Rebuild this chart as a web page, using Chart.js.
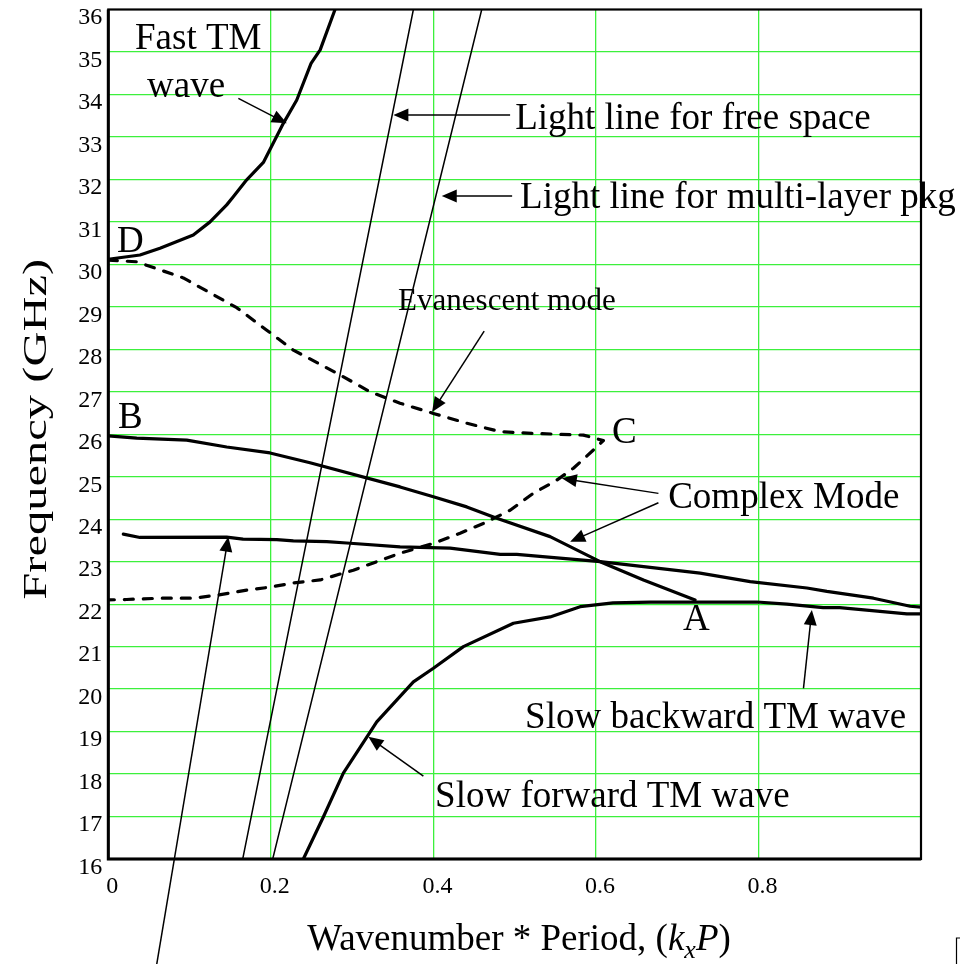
<!DOCTYPE html>
<html>
<head>
<meta charset="utf-8">
<script src="https://cdn.jsdelivr.net/npm/chart.js@4.4.1/dist/chart.umd.min.js"></script>
<style>
html,body{margin:0;padding:0;background:#fff;}
#wrap{width:960px;height:964px;position:relative;}
</style>
</head>
<body>
<div id="wrap"><canvas id="c" width="960" height="964"></canvas></div>
<script>
// ---------- tick values ----------
const xTickValues = [0, 0.2, 0.4, 0.6, 0.8];
const yTickValues = [16,17,18,19,20,21,22,23,24,25,26,27,28,29,30,31,32,33,34,35,36];

// ---------- series (k_x P , frequency GHz) ----------
const fastTM_k = [0, 0.039, 0.0636, 0.1046, 0.1252, 0.1457, 0.1538, 0.1703, 0.1908, 0.2154, 0.2319, 0.2495, 0.2607, 0.2790];
const fastTM_f = [30.12, 30.22, 30.38, 30.69, 31.0, 31.4, 31.59, 31.99, 32.4, 33.32, 33.87, 34.73, 35.05, 36.0];

const freeSpace_k = [0.1654, 0.3754];
const freeSpace_f = [16, 36];

const multiLayer_k = [0.2023, 0.4595];
const multiLayer_f = [16, 36];

const slowFwd_k = [0.24, 0.2646, 0.2892, 0.3303, 0.3754, 0.4, 0.4369, 0.4985, 0.5436, 0.5806, 0.6211, 0.6667, 0.72, 0.798, 0.835, 0.8796, 0.9, 0.9826, 1.0];
const slowFwd_f = [16, 16.99, 18.02, 19.23, 20.17, 20.49, 21.0, 21.55, 21.70, 21.94, 22.03, 22.05, 22.05, 22.05, 22.0, 21.92, 21.92, 21.77, 21.77];

const slowBwd_k = [0.0185, 0.039, 0.1457, 0.1658, 0.2073, 0.2277, 0.2688, 0.2934, 0.359, 0.4206, 0.4822, 0.5026, 0.6052, 0.7282, 0.7898, 0.8596, 0.8842, 0.9415, 0.9867, 1.0];
const slowBwd_f = [23.65, 23.57, 23.58, 23.53, 23.52, 23.49, 23.47, 23.44, 23.35, 23.32, 23.17, 23.17, 23.0, 22.73, 22.53, 22.38, 22.30, 22.14, 21.95, 21.93];

const complexBA_k = [0, 0.035, 0.0965, 0.1457, 0.199, 0.2482, 0.359, 0.4, 0.4411, 0.478, 0.5436, 0.6052, 0.6585, 0.722];
const complexBA_f = [25.96, 25.91, 25.86, 25.70, 25.56, 25.33, 24.76, 24.53, 24.29, 24.02, 23.59, 23.0, 22.57, 22.1];

const evanDC_k = [0, 0.035, 0.0923, 0.1252, 0.158, 0.195, 0.2277, 0.285, 0.322, 0.359, 0.4, 0.4411, 0.4822, 0.523, 0.5846, 0.6092,
                  0.597, 0.5723, 0.5519, 0.523, 0.4944, 0.4615, 0.4329, 0.4, 0.359, 0.3015, 0.2606, 0.2277, 0.199, 0.1703, 0.1334, 0.1046, 0.0636, 0.0226, 0];
const evanDC_f = [30.1, 30.06, 29.68, 29.33, 28.98, 28.45, 27.98, 27.4, 27.0, 26.73, 26.49, 26.26, 26.06, 26.02, 25.98, 25.85,
                  25.63, 25.2, 24.92, 24.61, 24.21, 23.9, 23.67, 23.43, 23.2, 22.8, 22.57, 22.5, 22.4, 22.33, 22.21, 22.14, 22.14, 22.11, 22.1];

// ---------- annotation texts ----------
const labelTexts = ['Fast TM', 'wave', 'Light line for free space', 'Light line for multi-layer pkg', 'D', 'B',
                    'Evanescent mode', 'C', 'Complex Mode', 'A', 'Slow backward TM wave', 'Slow forward TM wave'];
const yTitleText = 'Frequency (GHz)';

function pts(ks, fs){ return ks.map((k,i)=>({x:k, y:fs[i]})); }

const FONT = '"Liberation Serif", "Times New Roman", Times, serif';
const GRID = '#3cf03c';

// annotation placement (data coordinates) + font size
const labelPos = [
  [0.0329, 35.07], [0.0476, 33.94], [0.5006, 33.19], [0.5067, 31.33], [0.0107, 30.29], [0.0119, 26.15],
  [0.3566, 28.92], [0.6197, 25.79], [0.6889, 24.26], [0.7073, 21.39], [0.5128, 19.09], [0.4021, 17.23]
];
const labelSize = [37, 37, 37, 37, 37, 37, 31, 37, 37, 37, 37, 37];
const arrowDefs = [
  [0.16, 33.909, 0.2196, 33.32],
  [0.4944, 33.516, 0.3508, 33.516],
  [0.4969, 31.609, 0.4103, 31.609],
  [0.4625, 28.43, 0.3984, 26.523],
  [0.6769, 24.608, 0.558, 24.962],
  [0.6769, 24.387, 0.5683, 23.469],
  [0.8554, 20.017, 0.8657, 21.86],
  [0.3877, 17.952, 0.32, 18.877],
  [0.0596, 13.525, 0.1477, 23.587]
];

function drawArrow(ctx, x1, y1, x2, y2){
  const a = Math.atan2(y2 - y1, x2 - x1);
  const L = 15, W = 6.5;
  ctx.beginPath();
  ctx.moveTo(x1, y1);
  ctx.lineTo(x2 - L*0.8*Math.cos(a), y2 - L*0.8*Math.sin(a));
  ctx.stroke();
  ctx.beginPath();
  ctx.moveTo(x2, y2);
  ctx.lineTo(x2 - L*Math.cos(a) + W*Math.sin(a), y2 - L*Math.sin(a) - W*Math.cos(a));
  ctx.lineTo(x2 - L*Math.cos(a) - W*Math.sin(a), y2 - L*Math.sin(a) + W*Math.cos(a));
  ctx.closePath();
  ctx.fill();
}

const annotPlugin = {
  id: 'annot',
  afterDatasetsDraw(chart){
    const ctx = chart.ctx, xs = chart.scales.x, ys = chart.scales.y, ca = chart.chartArea;
    ctx.save();
    // frame
    ctx.strokeStyle = '#000';
    ctx.lineWidth = 2.2;
    ctx.strokeRect(ca.left, ca.top, ca.right - ca.left, ca.bottom - ca.top);
    ctx.lineWidth = 3;
    ctx.beginPath();
    ctx.moveTo(ca.left, ca.top); ctx.lineTo(ca.left, ca.bottom); ctx.lineTo(ca.right, ca.bottom);
    ctx.stroke();
    // arrows
    ctx.lineWidth = 1.5;
    ctx.fillStyle = '#000';
    arrowDefs.forEach(d => {
      drawArrow(ctx, xs.getPixelForValue(d[0]), ys.getPixelForValue(d[1]), xs.getPixelForValue(d[2]), ys.getPixelForValue(d[3]));
    });
    // labels
    ctx.textAlign = 'left';
    ctx.textBaseline = 'alphabetic';
    labelTexts.forEach((t, i) => {
      ctx.font = labelSize[i] + 'px ' + FONT;
      ctx.fillText(t, xs.getPixelForValue(labelPos[i][0]), ys.getPixelForValue(labelPos[i][1]));
    });
    // x-axis title with italic parts
    const parts = [
      {t:'Wavenumber * Period, (', f:'37px ' + FONT, dy:0},
      {t:'k', f:'italic 37px ' + FONT, dy:0},
      {t:'x', f:'italic 26px ' + FONT, dy:8},
      {t:'P', f:'italic 37px ' + FONT, dy:0},
      {t:')', f:'37px ' + FONT, dy:0}
    ];
    let total = 0;
    parts.forEach(p => { ctx.font = p.f; p.w = ctx.measureText(p.t).width; total += p.w; });
    let x = 519 - total/2;
    const base = 950;
    parts.forEach(p => { ctx.font = p.f; ctx.fillText(p.t, x, base + p.dy); x += p.w; });
    // y-axis title (stretched along its length as in the reference)
    ctx.save();
    ctx.translate(46, (ca.top + ca.bottom) / 2 - 5);
    ctx.rotate(-Math.PI / 2);
    ctx.scale(1.47, 1);
    ctx.font = '33px ' + FONT;
    ctx.textAlign = 'center';
    ctx.textBaseline = 'alphabetic';
    ctx.fillText(yTitleText, 0, 0);
    ctx.restore();
    // small mark at lower right
    ctx.lineWidth = 1.2;
    ctx.beginPath();
    ctx.moveTo(960, 938); ctx.lineTo(956.5, 938); ctx.lineTo(956.5, 964);
    ctx.stroke();
    ctx.restore();
  }
};

const thick = 3.2;
const chart = new Chart(document.getElementById('c'), {
  type: 'scatter',
  data: {
    datasets: [
      {label:'Light line for free space', data: pts(freeSpace_k, freeSpace_f), borderWidth:1.5},
      {label:'Light line for multi-layer pkg', data: pts(multiLayer_k, multiLayer_f), borderWidth:1.5},
      {label:'Fast TM wave', data: pts(fastTM_k, fastTM_f), borderWidth:thick},
      {label:'Evanescent / Complex mode (dashed)', data: pts(evanDC_k, evanDC_f), borderWidth:3.2, borderDash:[9,10]},
      {label:'Complex mode B-A', data: pts(complexBA_k, complexBA_f), borderWidth:thick},
      {label:'Slow backward TM wave', data: pts(slowBwd_k, slowBwd_f), borderWidth:thick},
      {label:'Slow forward TM wave', data: pts(slowFwd_k, slowFwd_f), borderWidth:thick}
    ].map(d => Object.assign({showLine:true, pointRadius:0, pointHoverRadius:0, borderColor:'#000', backgroundColor:'#000', tension:0, fill:false, borderJoinStyle:'round', borderCapStyle:'round'}, d))
  },
  options: {
    responsive: false,
    devicePixelRatio: 1,
    animation: false,
    events: [],
    layout: { padding: {left:0, top:9.5, right:39, bottom:0} },
    plugins: { legend:{display:false}, tooltip:{enabled:false}, title:{display:false} },
    scales: {
      x: {
        type:'linear', min:0, max:1,
        afterBuildTicks: s => { s.ticks = xTickValues.map(v => ({value:v})); },
        afterFit: s => { s.height = 105; s.paddingLeft = 0; s.paddingRight = 0; },
        grid: { drawTicks:false, color: c => (c.tick && c.tick.value === 0) ? 'rgba(0,0,0,0)' : GRID, lineWidth:1.3 },
        border: { display:false },
        ticks: { color:'#000', font:{family:FONT, size:24}, padding:13, labelOffset:4, maxRotation:0,
                 callback: v => String(v) }
      },
      y: {
        type:'linear', min:16, max:36,
        afterBuildTicks: s => { s.ticks = yTickValues.map(v => ({value:v})); },
        afterFit: s => { s.width = 108.3; s.paddingTop = 0; s.paddingBottom = 0; },
        grid: { drawTicks:false, color: c => (c.tick && (c.tick.value === 16 || c.tick.value === 36)) ? 'rgba(0,0,0,0)' : GRID, lineWidth:1.3 },
        border: { display:false },
        ticks: { color:'#000', font:{family:FONT, size:24}, padding:6, labelOffset:8.5, callback: v => String(v) }
      }
    }
  },
  plugins: [annotPlugin]
});
</script>
</body>
</html>
